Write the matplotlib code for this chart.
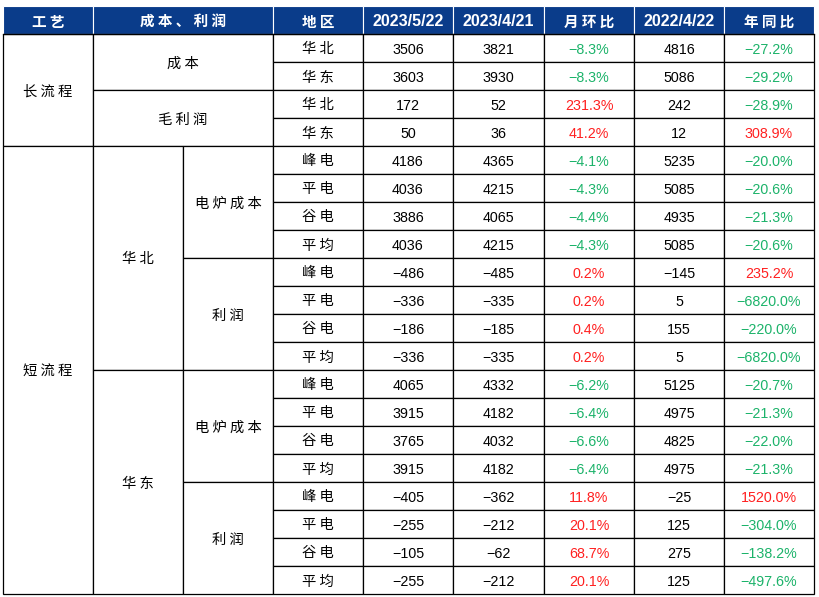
import matplotlib
matplotlib.use("Agg")
import matplotlib.pyplot as plt
from matplotlib.patches import Rectangle

# ---------------- data ----------------
headers = ["工艺", "成本、利润", "地区", "2023/5/22", "2023/4/21", "月环比", "2022/4/22", "年同比"]
sub_labels = ["华北", "华东", "华北", "华东",
              "峰电", "平电", "谷电", "平均", "峰电", "平电", "谷电", "平均",
              "峰电", "平电", "谷电", "平均", "峰电", "平电", "谷电", "平均"]
v_20230522 = [3506, 3603, 172, 50, 4186, 4036, 3886, 4036, -486, -336, -186, -336,
              4065, 3915, 3765, 3915, -405, -255, -105, -255]
v_20230421 = [3821, 3930, 52, 36, 4365, 4215, 4065, 4215, -485, -335, -185, -335,
              4332, 4182, 4032, 4182, -362, -212, -62, -212]
mom_pct = [-8.3, -8.3, 231.3, 41.2, -4.1, -4.3, -4.4, -4.3, 0.2, 0.2, 0.4, 0.2,
           -6.2, -6.4, -6.6, -6.4, 11.8, 20.1, 68.7, 20.1]
v_20220422 = [4816, 5086, 242, 12, 5235, 5085, 4935, 5085, -145, 5, 155, 5,
              5125, 4975, 4825, 4975, -25, 125, 275, 125]
yoy_pct = [-27.2, -29.2, -28.9, 308.9, -20.0, -20.6, -21.3, -20.6, 235.2, -6820.0, -220.0, -6820.0,
           -20.7, -21.3, -22.0, -21.3, 1520.0, -304.0, -138.2, -497.6]
# merged cells: (label, col_start, col_end, row_start, row_end)
merged = [("长流程", 0, 1, 0, 4), ("成本", 1, 3, 0, 2), ("毛利润", 1, 3, 2, 4),
          ("短流程", 0, 1, 4, 20), ("华北", 1, 2, 4, 12), ("华东", 1, 2, 12, 20),
          ("电炉成本", 2, 3, 4, 8), ("利润", 2, 3, 8, 12),
          ("电炉成本", 2, 3, 12, 16), ("利润", 2, 3, 16, 20)]

# ---------------- layout ----------------
col_edges = [3, 93, 183, 273, 363, 453, 544, 634, 724, 814]
top, head_h, row_h = 6, 28, 28
header_span = [(0, 1), (1, 3), (3, 4), (4, 5), (5, 6), (6, 7), (7, 8), (8, 9)]
BLUE = "#0A3C8A"
GREEN = "#1CB36A"
RED = "#FF2020"
CJK = ["Noto Sans CJK SC", "DejaVu Sans"]
NUM = ["Liberation Sans", "DejaVu Sans"]
FS = 10.3

fig = plt.figure(figsize=(8.19, 5.97), dpi=100)
ax = fig.add_axes([0, 0, 1, 1])
ax.set_xlim(0, 819)
ax.set_ylim(597, 0)
ax.axis("off")

def spaced(s):
    return " ".join(list(s))

def fmt_num(v):
    return ("−" + str(abs(v))) if v < 0 else str(v)

def fmt_pct(v):
    s = f"{abs(v):.1f}%"
    return ("−" + s) if v < 0 else s

# header
for text, (c0, c1) in zip(headers, header_span):
    x0, x1 = col_edges[c0], col_edges[c1]
    ax.add_patch(Rectangle((x0, top), x1 - x0, head_h, facecolor=BLUE, edgecolor="white", lw=0.8))
    is_cjk = any(ord(ch) > 0x2E80 for ch in text)
    ax.text((x0 + x1) / 2, top + head_h / 2, spaced(text) if is_cjk else text,
            ha="center", va="center_baseline", color="white",
            fontsize=10.5 if is_cjk else 11.5,
            fontweight="bold", family=CJK if is_cjk else NUM)
ax.plot([col_edges[0], col_edges[-1]], [top + head_h, top + head_h], color="black", lw=0.9)

y0 = top + head_h
# merged cells
for label, c0, c1, r0, r1 in merged:
    x0, x1 = col_edges[c0], col_edges[c1]
    ya, yb = y0 + r0 * row_h, y0 + r1 * row_h
    ax.add_patch(Rectangle((x0, ya), x1 - x0, yb - ya, facecolor="white", edgecolor="black", lw=0.9))
    ax.text((x0 + x1) / 2, (ya + yb) / 2, spaced(label), ha="center", va="center_baseline",
            fontsize=FS, family=CJK, color="black")

# row cells
for i in range(len(sub_labels)):
    ya = y0 + i * row_h
    yc = ya + row_h / 2
    vals = [(spaced(sub_labels[i]), CJK, "black"),
            (fmt_num(v_20230522[i]), NUM, "black"),
            (fmt_num(v_20230421[i]), NUM, "black"),
            (fmt_pct(mom_pct[i]), NUM, RED if mom_pct[i] > 0 else GREEN),
            (fmt_num(v_20220422[i]), NUM, "black"),
            (fmt_pct(yoy_pct[i]), NUM, RED if yoy_pct[i] > 0 else GREEN)]
    for j, (txt, fam, colr) in enumerate(vals):
        c = 3 + j
        x0, x1 = col_edges[c], col_edges[c + 1]
        ax.add_patch(Rectangle((x0, ya), x1 - x0, row_h, facecolor="white", edgecolor="black", lw=0.9))
        ax.text((x0 + x1) / 2, yc, txt, ha="center", va="center_baseline",
                fontsize=FS, family=fam, color=colr)

fig.savefig("out.png", dpi=100)
